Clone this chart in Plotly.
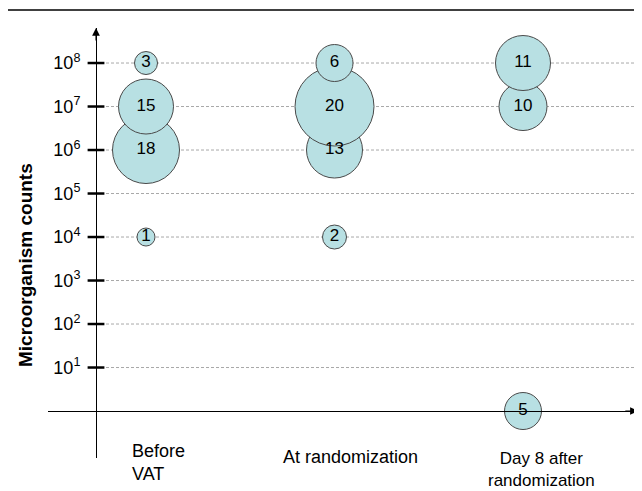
import plotly.graph_objects as go

# ---------------- data ----------------
categories = ["Before<br>VAT", "At randomization", "Day 8 after<br>randomization"]
bubble_group = [0, 0, 0, 0, 1, 1, 1, 1, 2, 2, 2]
bubble_count = [1e4, 1e6, 1e7, 1e8, 1e4, 1e6, 1e7, 1e8, 1, 1e7, 1e8]
bubble_label = ["1", "18", "15", "3", "2", "13", "20", "6", "5", "10", "11"]
bubble_size = [18, 67, 55, 23, 24, 56, 79, 37, 37, 48, 55]
y_tick_values = [1e1, 1e2, 1e3, 1e4, 1e5, 1e6, 1e7, 1e8]
y_tick_labels = ["10<sup>1</sup>", "10<sup>2</sup>", "10<sup>3</sup>", "10<sup>4</sup>",
                 "10<sup>5</sup>", "10<sup>6</sup>", "10<sup>7</sup>", "10<sup>8</sup>"]
y_title = "Microorganism counts"

# ---------------- layout geometry ----------------
OFF = 8  # default page (body) margin in the browser
W, H = 642 - OFF, 491 - OFF
ML, MR, MT, MB = 48 - OFF, 3, 28 - OFF, 33
PW, PH = W - ML - MR, H - MT - MB
PX_PER_GROUP = 188.5
FIRST_GROUP_PX = 98
x_min = -FIRST_GROUP_PX / PX_PER_GROUP
x_max = x_min + PW / PX_PER_GROUP
y_range = [-1.08, 8.805]
yaxis_frac = 48 / PW
x_yaxis = x_min + yaxis_frac * (x_max - x_min)
xaxis_frac = (0 - y_range[0]) / (y_range[1] - y_range[0])

FONT = "Liberation Sans, Arial, Helvetica, sans-serif"


def py2paper(py):
    return (MT + PH - (py - OFF)) / PH


def px2paper(px):
    return (px - OFF - ML) / PW


fig = go.Figure()

# dashed gridlines (start at the y axis)
for v in y_tick_values:
    fig.add_trace(go.Scatter(
        x=[x_yaxis, x_max], y=[v, v], mode="lines",
        line=dict(color="#a8a8a8", width=1, dash="3px,2px"),
        hoverinfo="skip", showlegend=False))

# crossing tick marks on the y axis
fig.add_trace(go.Scatter(
    x=[x_yaxis] * len(y_tick_values), y=y_tick_values, mode="markers",
    marker=dict(symbol="line-ew", size=12, line=dict(color="black", width=2.5)),
    hoverinfo="skip", showlegend=False, cliponaxis=False))

# bubbles
fig.add_trace(go.Scatter(
    x=bubble_group, y=bubble_count, mode="markers+text",
    text=bubble_label, textposition="middle center",
    textfont=dict(family=FONT, size=17, color="black"),
    marker=dict(size=bubble_size, sizemode="diameter", color="#b8e0e3",
                opacity=1, line=dict(color="#4a4a4a", width=1)),
    showlegend=False, cliponaxis=False))

annotations = [
    # y axis arrow
    dict(xref="paper", yref="paper", x=yaxis_frac, y=1.0, ax=0, ay=14,
         text="", showarrow=True, arrowhead=2, arrowsize=1.4, arrowwidth=1.1,
         arrowcolor="black"),
    # x axis arrow
    dict(xref="paper", yref="paper", x=0.998, y=xaxis_frac, ax=-14, ay=0,
         text="", showarrow=True, arrowhead=2, arrowsize=1.4, arrowwidth=1.1,
         arrowcolor="black"),
    # y title
    dict(xref="paper", yref="paper", x=px2paper(25), y=py2paper(265),
         text="<b>" + y_title + "</b>", textangle=-90, showarrow=False,
         font=dict(family=FONT, size=19, color="black"),
         xanchor="center", yanchor="middle"),
    # category labels
    dict(xref="x", yref="paper", x=0, xshift=-16, y=py2paper(462.5),
         text=categories[0], showarrow=False, align="left",
         xanchor="left", yanchor="middle",
         font=dict(family=FONT, size=18, color="black")),
    dict(xref="x", yref="paper", x=1, xshift=16, y=py2paper(457),
         text=categories[1], showarrow=False, align="center",
         xanchor="center", yanchor="middle",
         font=dict(family=FONT, size=18, color="black")),
    dict(xref="x", yref="paper", x=2, xshift=18, y=py2paper(470),
         text=categories[2], showarrow=False, align="center",
         xanchor="center", yanchor="middle", borderpad=0,
         font=dict(family=FONT, size=17, color="black")),
]

shapes = [
    dict(type="line", xref="paper", yref="paper",
         x0=px2paper(3), x1=px2paper(642), y0=py2paper(10), y1=py2paper(10),
         line=dict(color="black", width=1.5)),
]

fig.update_layout(
    width=W, height=H,
    margin=dict(l=ML, r=MR, t=MT, b=MB),
    paper_bgcolor="white", plot_bgcolor="white",
    font=dict(family=FONT, size=18, color="black"),
    xaxis=dict(range=[x_min, x_max], showgrid=False, zeroline=False,
               showline=True, linecolor="black", linewidth=1,
               anchor="free", position=xaxis_frac,
               showticklabels=False, ticks=""),
    yaxis=dict(type="log", range=y_range, showgrid=False, zeroline=False,
               showline=True, linecolor="black", linewidth=1,
               anchor="free", position=yaxis_frac,
               tickvals=y_tick_values, ticktext=y_tick_labels, ticks="",
               ticklabelstandoff=12,
               tickfont=dict(family=FONT, size=18, color="black")),
    annotations=annotations,
    shapes=shapes,
    showlegend=False,
)

fig.write_html("out.html")
